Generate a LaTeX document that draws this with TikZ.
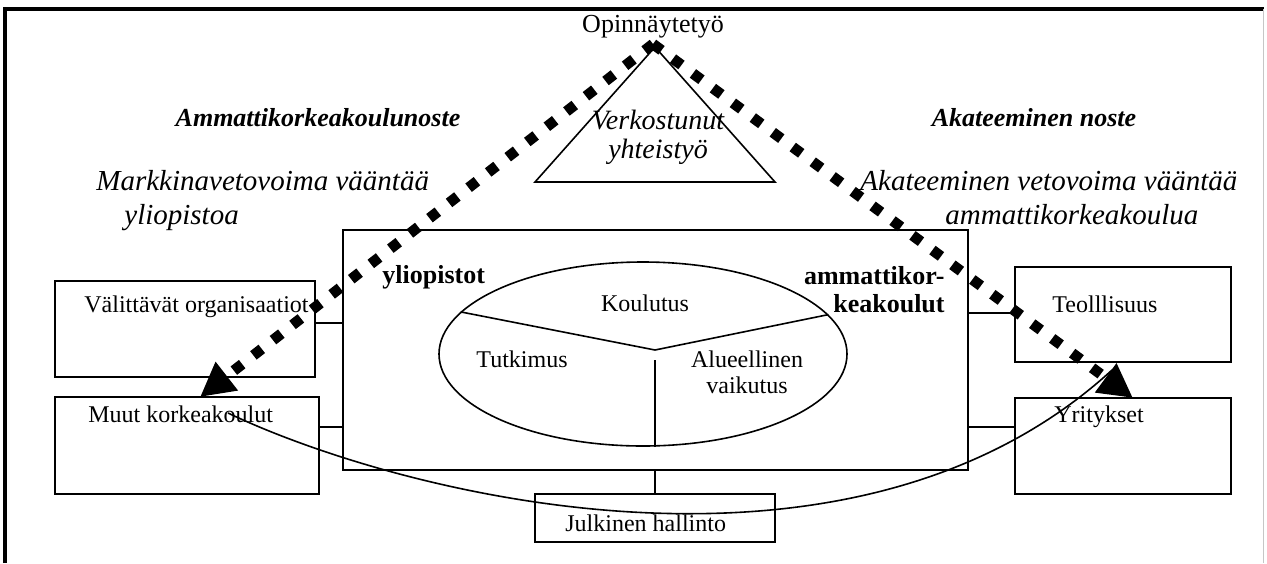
\documentclass[tikz,border=0pt]{standalone}
\usepackage{fontspec}
\setmainfont{Liberation Serif}
\usetikzlibrary{arrows.meta,shapes.geometric}

\begin{document}
\begin{tikzpicture}[x=0.5pt, y=-0.5pt,
        box/.style={draw, line width=0.8pt, inner sep=0pt, outer sep=0pt},
        boxtext/.style={anchor=base west, inner sep=0pt, font=\fontsize{12}{14}\selectfont},
        bigit/.style={anchor=base west, inner sep=0pt, align=left, font=\fontsize{14.5}{17}\selectfont\itshape},
        boldit/.style={anchor=base, inner sep=0pt, font=\fontsize{13}{15}\selectfont\bfseries\itshape},
        push/.style={line width=5.3pt, dash pattern=on 5.3pt off 7.1pt,
                -{Triangle[length=17pt, width=17pt]}}]
        \useasboundingbox (0, 0) rectangle (1267, 563);
        \draw[line width=2pt] (5, 563) -- (5, 9) -- (1264, 9);
        \draw[gray!45, line width=0.5pt] (1263, 9) -- (1263, 563);

        % boxes
        \node[box, minimum width=312.5pt, minimum height=120pt] (main) at (655.5, 350) {};
        \node[box, minimum width=130pt, minimum height=48pt] (valitt) at (185, 329) {};
        \node[box, minimum width=132pt, minimum height=48.5pt] (muut) at (187, 445.5) {};
        \node[box, minimum width=108pt, minimum height=47.5pt] (teoll) at (1123, 314.5) {};
        \node[box, minimum width=108pt, minimum height=48pt] (yrit) at (1123, 446) {};
        \node[box, minimum width=120pt, minimum height=24pt] (julk) at (655, 518) {};

        \node[boxtext] (valitt-t) at ([xshift=14.5pt, yshift=-15.5pt]valitt.north west) {Välittävät organisaatiot};
        \node[boxtext] (muut-t) at ([xshift=16.5pt, yshift=-12.5pt]muut.north west) {Muut korkeakoulut};
        \node[boxtext] (teoll-t) at ([xshift=18.5pt, yshift=-22.5pt]teoll.north west) {Teolllisuus};
        \node[boxtext] (yrit-t) at ([xshift=19.5pt, yshift=-12pt]yrit.north west) {Yritykset};
        \node[boxtext] (julk-t) at ([xshift=15pt, yshift=-18.5pt]julk.north west) {Julkinen hallinto};

        \foreach \b/\s/\a/\m in {valitt/3/east/west, muut/9.25/east/west, teoll/0.75/west/east, yrit/9.5/west/east}
                \draw[line width=0.8pt] ([yshift=\s pt]\b.\a) -- ([yshift=\s pt]\b.\a -| main.\m);
        \draw[line width=0.8pt] (julk.north) -- (julk.north |- main.south);

        % ellipse
        \node[ellipse, draw, line width=0.8pt, inner sep=0pt, minimum width=204pt, minimum height=92pt] (ell) at (643, 354) {};
        \coordinate (mid) at (655, 350);
        \draw[line width=0.8pt] (ell.167) -- (mid) -- (ell.12.6);
        \draw[line width=0.8pt] ([yshift=-5pt]mid) -- (mid |- ell.south);
        \node[boxtext, anchor=base] (koul) at (645, 311) {Koulutus};
        \node[boxtext, anchor=base] (tutk) at (522, 367) {Tutkimus};
        \node[boxtext, anchor=base, align=center, font=\fontsize{12}{13}\selectfont] (alue) at (747, 393) {Alueellinen\\vaikutus};

        \node[anchor=base west, inner sep=0pt, font=\fontsize{13}{14}\selectfont\bfseries] (yo) at (382, 283) {yliopistot};
        \node[anchor=base east, inner sep=0pt, align=right, font=\fontsize{13}{14}\selectfont\bfseries] (amk) at (945, 312) {ammattikor-\\keakoulut};

        % triangle
        \draw[line width=0.8pt] (655, 47) -- (535, 182) -- (775, 182) -- cycle;
        \node[anchor=base, inner sep=0pt, align=center, font=\fontsize{14}{14.5}\selectfont\itshape] (verk) at (658, 158) {Verkostunut\\yhteistyö};
        \node[anchor=base, inner sep=0pt, font=\fontsize{13}{15}\selectfont] (opin) at (653, 32) {Opinnäytetyö};

        \node[boldit] (amkn) at (318, 126) {Ammattikorkeakoulunoste};
        \node[boldit] (akn) at (1034, 126) {Akateeminen noste};
        \node[bigit] (markk) at (96, 224) {Markkinavetovoima vääntää\\\hspace*{14pt}yliopistoa};
        \node[bigit] (akav) at (860, 224) {Akateeminen vetovoima vääntää\\\hspace*{42.5pt}ammattikorkeakoulua};

        % connectors
        \draw[line width=0.8pt] ([xshift=20.5pt, yshift=-8pt]muut.north) .. controls (400, 495) and (850, 610) .. ([xshift=-5.5pt, yshift=14pt]yrit.north);
        \coordinate (top) at (653, 44);
        \draw[push] (top) -- ([xshift=6.5pt]muut.north);
        \draw[push] (top) -- ([xshift=5pt]yrit.north);
\end{tikzpicture}
\end{document}
